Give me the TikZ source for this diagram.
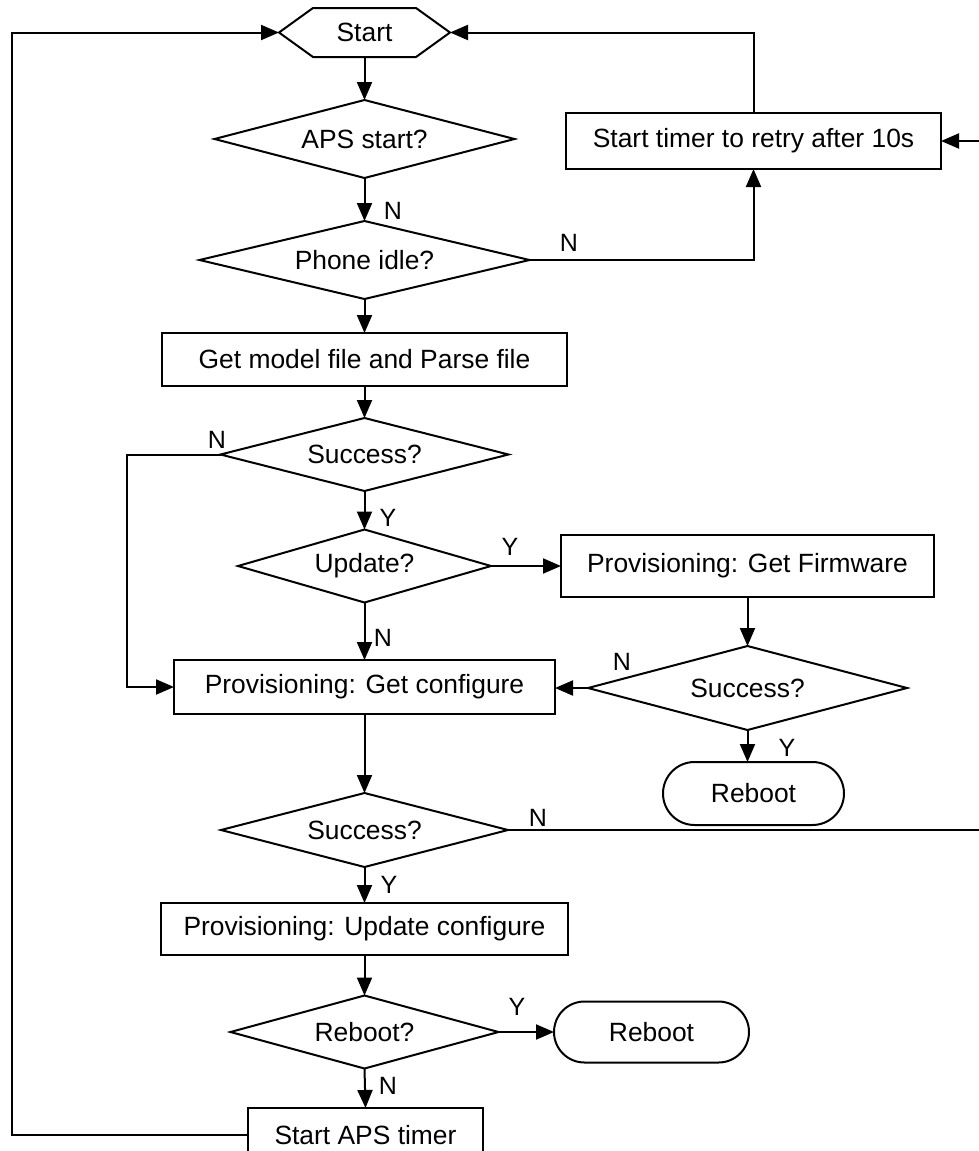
\documentclass[tikz,border=0pt]{standalone}
\usepackage{fontspec}
\setmainfont{Liberation Sans}
\usetikzlibrary{arrows.meta,shapes.geometric,shapes.misc}

\begin{document}
\begin{tikzpicture}[
  x=0.5pt, y=-0.5pt,
  line width=1pt,
  every node/.style={inner sep=0pt, outer sep=0pt, font=\fontsize{13.2}{15}\selectfont},
  procbox/.style={rectangle, draw},
  decision/.style={diamond, draw, shape aspect=4},
  terminal/.style={rounded rectangle, draw},
  flow/.style={-{Triangle[length=9pt,width=7.5pt]}},
  lbl/.style={font=\fontsize{12.5}{14}\selectfont}
]
\useasboundingbox (0,0) rectangle (979,1151);

% start hexagon
\node (start) [minimum width=85.5pt, minimum height=24.5pt] at (364.5,32.5) {Start};
\draw (start.west) -- ([xshift=17pt]start.north west) -- ([xshift=-17pt]start.north east)
  -- (start.east) -- ([xshift=-17pt]start.south east) -- ([xshift=17pt]start.south west) -- cycle;

% main column
\node (aps) [decision, minimum width=150pt, minimum height=39pt] at (364.5,139) {APS start?};
\node (phone) [decision, minimum width=165pt, minimum height=39pt] at (364.5,260) {Phone idle?};
\node (timer) [procbox, minimum width=187.5pt, minimum height=28pt] at (753.5,141) {Start timer to retry after 10s};
\node (model) [procbox, minimum width=202.5pt, minimum height=26.5pt] at (364.5,359.5) {Get model file and Parse file};
\node (succ1) [decision, minimum width=144pt, minimum height=36.5pt] at (364.5,454.5) {Success?};
\node (update) [decision, minimum width=126.5pt, minimum height=36.5pt] at (364.5,566) {Update?};
\node (fw) [procbox, minimum width=186.5pt, minimum height=31pt] at (747.5,566) {Provisioning: Get Firmware};
\node (getconf) [procbox, minimum width=190.5pt, minimum height=27pt] at (364.5,687) {Provisioning: Get configure};
\node (succ2) [decision, minimum width=159.5pt, minimum height=42pt] at (747.5,688) {Success?};
\node (reboot1) [terminal, minimum width=90.5pt, minimum height=31.5pt] at (753.5,793.5) {Reboot};
\node (succ3) [decision, minimum width=143.5pt, minimum height=37pt] at (364.5,830) {Success?};
\node (updconf) [procbox, minimum width=203.5pt, minimum height=26pt] at (364.5,929) {Provisioning: Update configure};
\node (rb) [decision, minimum width=134pt, minimum height=36.5pt] at (364.5,1032) {Reboot?};
\node (reboot2) [terminal, minimum width=97.5pt, minimum height=30.5pt] at (651.5,1032) {Reboot};
\node (apstimer) [procbox, minimum width=117.5pt, minimum height=27pt] at (365.5,1135) {Start APS timer};

% routing points
\coordinate (lft) at (127,454.5);
\coordinate (rt) at (983,830);
\coordinate (lb) at (12,1135);

% connectors
\draw[flow] (start.south) -- (aps.north);
\draw[flow] (aps.south) -- (phone.north);
\draw[flow] (phone.east) -| (timer.south);
\draw[flow] (timer.north) |- (start.east);
\draw[flow] (phone.south) -- (model.north);
\draw[flow] (model.south) -- (succ1.north);
\draw[flow] (succ1.west) -- (lft) |- (getconf.west);
\draw[flow] (succ1.south) -- (update.north);
\draw[flow] (update.east) -- (update.east -| fw.west);
\draw[flow] (update.south) -- (getconf.north);
\draw[flow] (fw.south) -- (succ2.north);
\draw[flow] (succ2.west) -- (succ2.west -| getconf.east);
\draw[flow] (succ2.south) -- (succ2.south |- reboot1.north);
\draw[flow] (getconf.south) -- (succ3.north);
\draw[flow] (succ3.east) -- (rt) |- (timer.east);
\draw[flow] (succ3.south) -- (updconf.north);
\draw[flow] (updconf.south) -- (rb.north);
\draw[flow] (rb.east) -- (rb.east -| reboot2.west);
\draw[flow] (rb.south) -- (apstimer.north);
\draw[flow] (apstimer.west) -- (lb) |- (start.west);

% branch labels
\node[lbl] (l1) at (393,211) {N};
\node[lbl] (l2) at (569,243) {N};
\node[lbl] (l3) at (217,440) {N};
\node[lbl] (l4) at (388,518) {Y};
\node[lbl] (l5) at (510,547) {Y};
\node[lbl] (l6) at (383,638) {N};
\node[lbl] (l7) at (622,662) {N};
\node[lbl] (l8) at (787,748) {Y};
\node[lbl] (l9) at (538,818) {N};
\node[lbl] (l10) at (389,885) {Y};
\node[lbl] (l11) at (517,1007) {Y};
\node[lbl] (l12) at (388,1086) {N};
\end{tikzpicture}
\end{document}
